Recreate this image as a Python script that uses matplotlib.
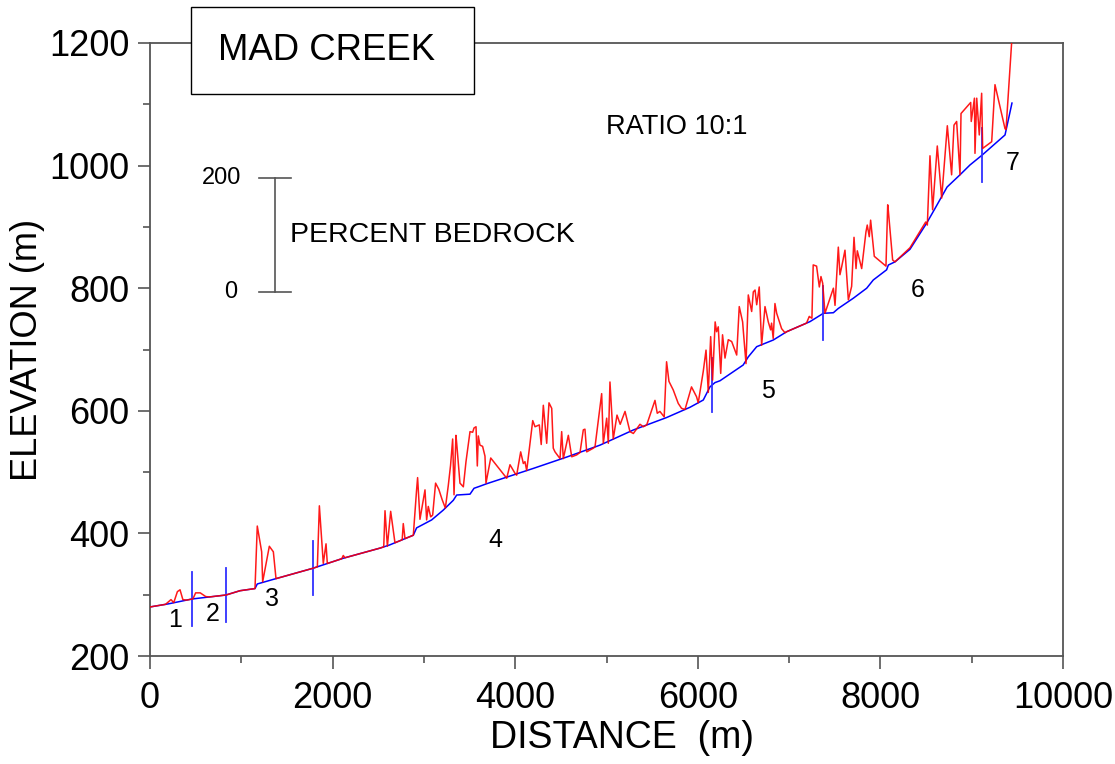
import numpy as np
import matplotlib
matplotlib.use("Agg")
import matplotlib.pyplot as plt
from matplotlib.patches import Rectangle

plt.rcParams['font.family'] = ['Liberation Sans', 'DejaVu Sans']

# ---------------- data ----------------
title = "MAD CREEK"
ratio_text = "RATIO 10:1"
scale_text = "PERCENT BEDROCK"

# channel bed profile (blue)
bed_dist = np.array([0, 200, 460, 832, 986, 1150, 1175, 1351, 1782, 2117, 2519, 2622, 2884, 2920,
                     3085, 3212, 3322, 3359, 3505, 3549, 3614, 3687, 4198, 4563, 4929, 5294, 5658,
                     5914, 6060, 6133, 6188, 6243, 6497, 6553, 6645, 6827, 6973, 7229, 7375, 7485,
                     7539, 7703, 7850, 7922, 8068, 8087, 8160, 8324, 8506, 8598, 8730, 8872, 8981,
                     9113, 9365, 9441])
bed_elev = np.array([280, 285, 293, 299.5, 306.5, 310, 317.5, 325, 343, 359.5, 376, 381, 397, 409,
                     422, 438, 454, 462.6, 464, 473.6, 477, 481, 506, 524.5, 544, 568.7, 589,
                     605.7, 617.6, 639, 646, 649, 674.7, 688, 704.6, 715.5, 729, 745.5, 759, 760,
                     767, 783.6, 800, 813.4, 830, 837.8, 843, 863.5, 906, 930, 965, 985, 1001,
                     1017, 1050, 1102])

# bed + percent-bedrock trace (red); nan = on the bed
N = np.nan
red_dist = [0, 170, 230, 260, 300, 329, 360, 400, 470, 500, 550, 610, 650,
            1150, 1175, 1223, 1234, 1307, 1351, 1380,
            1833, 1855, 1898, 1928, 1942,
            2100, 2117, 2135,
            2560, 2574, 2600, 2636, 2683, 2762, 2774, 2793,
            2884, 2931, 2957, 3012, 3030, 3048, 3074, 3096, 3128, 3163, 3200, 3235, 3267, 3292,
            3315, 3330, 3351, 3395, 3432, 3461, 3505, 3534, 3549, 3571, 3585, 3596, 3614, 3643,
            3669, 3680, 3732, 3907, 3943, 3998, 4016, 4060, 4089, 4107, 4126,
            4192, 4217, 4264, 4285, 4308, 4345, 4370, 4400, 4417, 4436, 4491, 4509, 4527, 4582,
            4619, 4673, 4710, 4746, 4764, 4783, 4855, 4874, 4947, 4965, 5002, 5020, 5038, 5074,
            5115, 5150, 5203, 5257, 5294, 5367, 5403, 5440, 5531, 5556, 5585, 5632, 5658, 5684,
            5731, 5786, 5822, 5860, 5931, 5986, 6005, 6090, 6115, 6141, 6162, 6190, 6206, 6224,
            6251, 6271, 6298, 6334, 6371, 6426, 6454, 6491, 6528, 6553, 6590, 6608, 6627, 6645,
            6673, 6699, 6736, 6772, 6798, 6808, 6826, 6845, 6864, 6918, 6955,
            7191, 7221, 7250, 7264, 7301, 7331, 7349, 7368, 7393, 7485, 7503, 7539, 7557, 7576,
            7612, 7649, 7685, 7711, 7733, 7747, 7795, 7842, 7856, 7878, 7893, 7933, 8061, 8080,
            8134, 8160, 8324, 8496, 8514, 8543, 8572, 8623, 8671, 8733, 8780, 8806, 8835, 8872,
            8883, 8989, 8995, 9030, 9036, 9055, 9083, 9109, 9120, 9219, 9255, 9376, 9438]
red_elev = [N, N, 292, 287, 305, 308, 292, N, N, 303, 303, 297, N,
            N, 412, 370, 321, 379, 370, N,
            N, 445, 351, 383, N,
            N, 364, N,
            N, 437, 379, 436, N, N, 416, N,
            N, 491, 423, 471, 422, 444, 427, 430, 482, 472, 455, N, 478, 511,
            554, 463, 560, 482, 476, 517, 566, 565, 572, 574, 510, 559, 544, 542,
            526, 482, 523, 490, 512, 498, 495, 533, 514, 517, N,
            584, 574, 577, 545, 609, 547, 613, 604, 539, 533, 522, 566, 522, 560,
            525, 528, 532, 569, 570, 533, 539, N, 628, 547, 588, 547, 647, 554,
            593, 578, 599, 566, 563, 578, 574, N, 617, 596, 599, 590, 680, 648,
            634, 612, 604, N, 639, 623, N, 699, 630, 721, 650, 745, 729, 737,
            661, 724, 686, 716, 713, 691, 770, 745, 677, 789, 762, 794, 797, 773,
            802, 707, 770, 745, 732, 743, 718, 775, 759, 734, N,
            N, 754, 751, 838, 836, 802, 819, 808, N, 800, 772, 867, 822, 835,
            862, 781, 803, 883, 832, 861, 832, 892, 903, 884, 911, 852, 836, 936,
            846, N, 866, 908, 903, 1016, 928, 1032, 947, 1065, 985, 1066, 1072, 985,
            1085, 1103, 1072, 1110, 1020, 1110, 1050, 1118, 1028, 1039, 1132, 1059, 1202]

# reach boundaries and labels
reach_bounds = [460, 832, 1785, 6155, 7375, 9113]
reach_labels = ["1", "2", "3", "4", "5", "6", "7"]
reach_label_dist = [274, 690, 1336, 3779, 6769, 8412, 9452]
reach_label_elev = [259, 268.5, 293, 389, 632, 797, 1004]

# percent bedrock scale bar
bar_dist = 1369
bar_bottom, bar_top = 794, 980
bar_tick_labels = ["0", "200"]

x_ticks = [0, 2000, 4000, 6000, 8000, 10000]
y_ticks = [200, 400, 600, 800, 1000, 1200]

# ---------------- figure ----------------
fig = plt.figure(figsize=(11.15, 7.64), dpi=100)
ax = fig.add_axes([150/1115, 1 - 656/764, 913/1115, 613/764])

bed_d = np.asarray(bed_dist, float)
bed_e = np.asarray(bed_elev, float)
rd = np.asarray(red_dist, float)
re = np.asarray(red_elev, float)
off = re - np.interp(rd, bed_d, bed_e)
off[np.isnan(off)] = 0.0
xf = np.union1d(rd, bed_d[bed_d <= rd.max()])
red_y = np.interp(xf, bed_d, bed_e) + np.interp(xf, rd, off)

ax.plot(bed_d, bed_e, color='#0000ff', lw=1.1, zorder=2)
ax.plot(xf, red_y, color='#ff0000', lw=1.1, alpha=0.9, zorder=3)

half = 44
for b in reach_bounds:
    e = np.interp(b, bed_d, bed_e)
    ax.plot([b, b], [e - half, e + half], color='#3030ff', lw=1.3, zorder=2.5)

for lab, d, e in zip(reach_labels, reach_label_dist, reach_label_elev):
    ax.text(d, e, lab, fontsize=18, ha='center', va='center', color='black')

# scale bar
ax.plot([bar_dist, bar_dist], [bar_bottom, bar_top], color='#555555', lw=1.2)
for yv in (bar_bottom, bar_top):
    ax.plot([bar_dist - 175, bar_dist + 175], [yv, yv], color='#555555', lw=1.2)
ax.text(1000, bar_top, bar_tick_labels[1], fontsize=17, ha='right', va='center')
ax.text(955, bar_bottom, bar_tick_labels[0], fontsize=17, ha='right', va='center')
ax.text(1530, 887, scale_text, fontsize=20.5, ha='left', va='center')
ax.text(4998, 1063, ratio_text, fontsize=19.5, ha='left', va='center')

# title box
ax.add_patch(Rectangle((0.045, 0.917), 0.31, 0.142, transform=ax.transAxes,
                       facecolor='white', edgecolor='black', lw=1.0, clip_on=False, zorder=10))
ax.text(0.074, 0.988, title, transform=ax.transAxes, fontsize=26.3, ha='left', va='center',
        zorder=11)

ax.set_xlim(0, 10000)
ax.set_ylim(200, 1200)
ax.set_xticks(x_ticks)
ax.set_yticks(y_ticks)
ax.set_xticks(np.arange(1000, 10000, 2000), minor=True)
ax.set_yticks(np.arange(300, 1200, 200), minor=True)
ax.tick_params(which='major', direction='out', length=9, width=1.2, color='#555555',
               labelsize=26)
ax.tick_params(which='minor', direction='out', length=5, width=1.2, color='#555555')
ax.tick_params(axis='x', which='major', pad=9)
ax.tick_params(axis='y', which='major', pad=6)
for s in ax.spines.values():
    s.set_color('#555555')
    s.set_linewidth(1.3)

ax.set_xlabel("DISTANCE  (m)", fontsize=27)
ax.xaxis.set_label_coords(0.517, -0.104)
ax.set_ylabel("ELEVATION (m)", fontsize=26, labelpad=3)

fig.savefig("out.png", dpi=100)
